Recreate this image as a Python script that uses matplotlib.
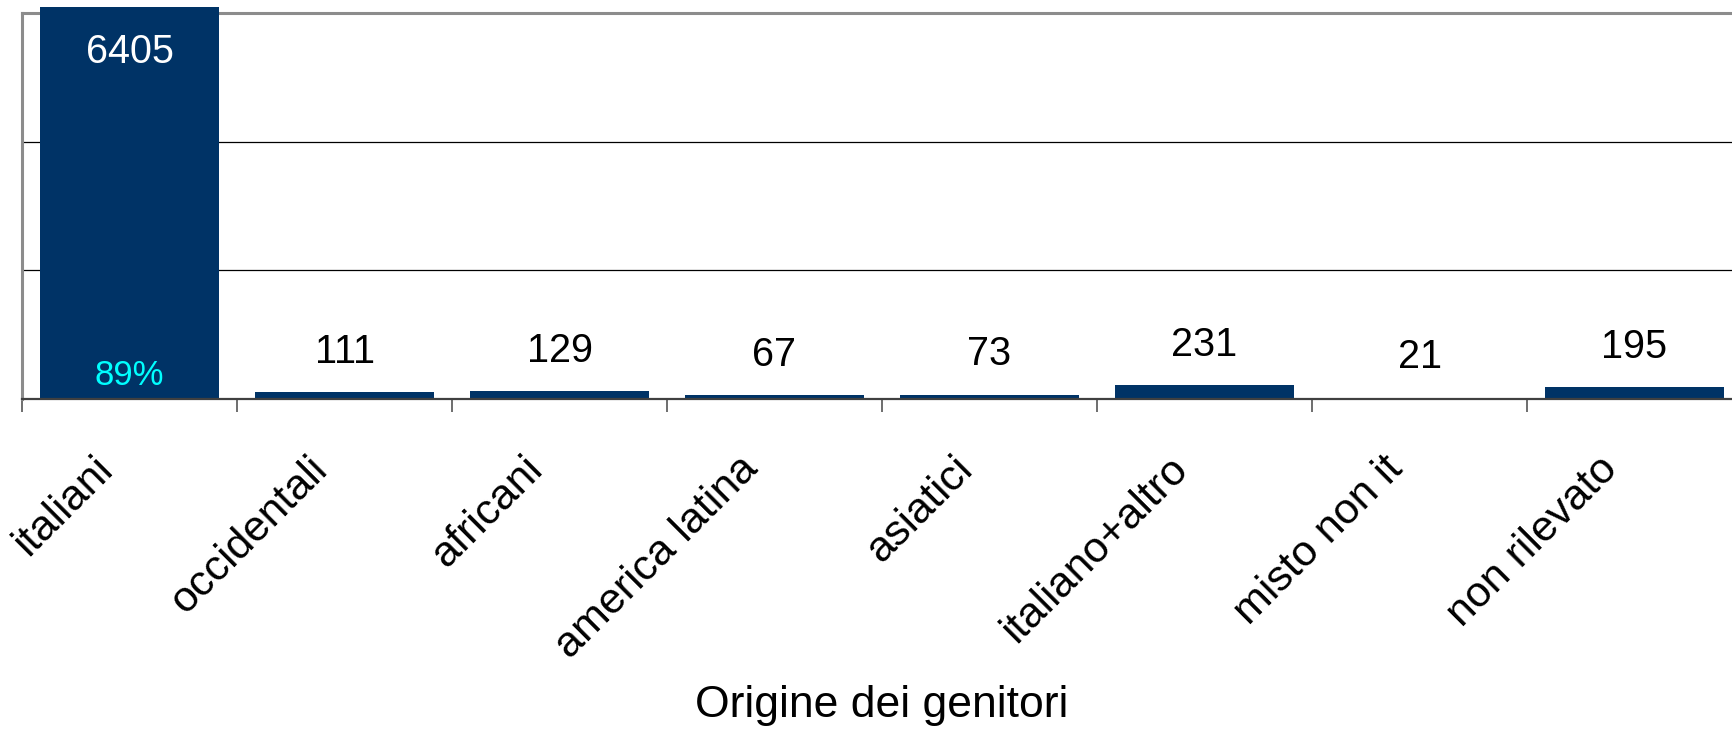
import numpy as np
import matplotlib.pyplot as plt
from matplotlib.ticker import FixedLocator, NullFormatter
from matplotlib.transforms import ScaledTranslation

# ---- data ----
categories = ["italiani", "occidentali", "africani", "america latina",
              "asiatici", "italiano+altro", "misto non it", "non rilevato"]
counts = [6405, 111, 129, 67, 73, 231, 21, 195]
share_label = "89%"   # share of the first category
x_title = "Origine dei genitori"

BAR = "#003366"

plt.rcParams["font.family"] = ["Liberation Sans", "DejaVu Sans"]

fig = plt.figure(figsize=(17.33, 7.30), dpi=100)
# plot area runs slightly past the right edge, as in the original export
ax = fig.add_axes([22 / 1733, 331 / 730, 1720 / 1733, 386 / 730])

x = np.arange(len(categories))
ax.bar(x, counts, width=0.83, color=BAR, clip_on=False, zorder=3)

ax.set_xlim(-0.5, len(categories) - 0.5)
ymax = 6300
ax.set_ylim(0, ymax)
ax.set_yticks([ymax / 3, 2 * ymax / 3])
ax.yaxis.set_major_formatter(NullFormatter())
ax.tick_params(axis="y", length=0)
ax.grid(axis="y", color="black", linewidth=0.9, zorder=1)

# category boundaries get the tick marks, centres get the labels
ax.xaxis.set_major_locator(FixedLocator(np.arange(-0.5, len(categories) + 0.5, 1)))
ax.xaxis.set_major_formatter(NullFormatter())
ax.xaxis.set_minor_locator(FixedLocator(x))
ax.set_xticklabels(categories, minor=True, rotation=45, ha="right",
                   va="center", rotation_mode="anchor", fontsize=31)
ax.tick_params(axis="x", which="major", length=9, width=1.2, color="#555555",
               direction="out")
ax.tick_params(axis="x", which="minor", length=0, pad=44)
# nudge labels left a bit, the original sits them left of the category centre
shift = ScaledTranslation(-23 / 100, -3 / 100, fig.dpi_scale_trans)
for lab in ax.get_xticklabels(minor=True):
    lab.set_transform(lab.get_transform() + shift)

for side in ["left", "top"]:
    ax.spines[side].set_color("#8c8c8c")
    ax.spines[side].set_linewidth(2.2)
ax.spines["bottom"].set_color("#404040")
ax.spines["bottom"].set_linewidth(1.6)
ax.spines["bottom"].set_zorder(4)
ax.spines["right"].set_visible(False)

# value labels
for xi, v in zip(x, counts):
    if xi == 0:
        ax.annotate(str(v), (xi, v), xytext=(0, -33), textcoords="offset points",
                    ha="center", va="center", color="white", fontsize=28.5,
                    zorder=5, annotation_clip=False)
        ax.annotate(share_label, (xi, 0), xytext=(0, 17), textcoords="offset points",
                    ha="center", va="center", color="#00ffff", fontsize=25,
                    zorder=5)
    else:
        ax.annotate(str(v), (xi, v), xytext=(0, 29), textcoords="offset points",
                    ha="center", va="center", color="black", fontsize=28.5, zorder=5)

fig.text(882 / 1733, 1 - 705 / 730, x_title, ha="center", va="center", fontsize=32)

fig.savefig("out.png", dpi=100)
